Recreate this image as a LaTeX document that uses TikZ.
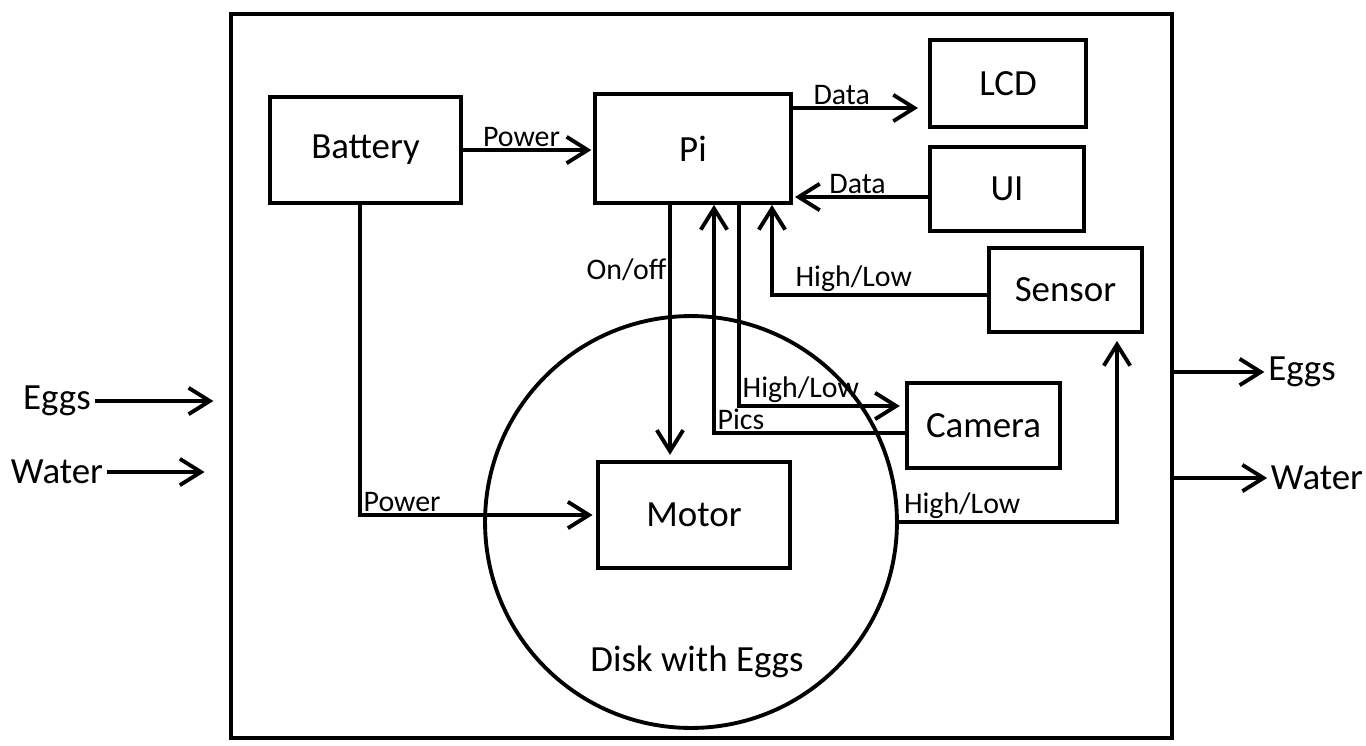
\documentclass[tikz,border=0pt]{standalone}
\usepackage{fontspec}
\setmainfont{Carlito}
\usetikzlibrary{arrows.meta}
\tikzset{
  box/.style  = {draw, rectangle, line width=2.2pt, font=\fontsize{21}{25}\selectfont},
  big/.style  = {font=\fontsize{21}{25}\selectfont, inner sep=2pt},
  tag/.style  = {font=\fontsize{17}{20}\selectfont, inner sep=1pt},
  flow/.style = {draw, line width=2.2pt, -{Straight Barb[length=12pt,width=15pt]}}
}

\begin{document}
\begin{tikzpicture}[x=0.02cm, y=-0.02cm]
  \useasboundingbox (0,0) rectangle (1366,745);
  % enclosure and disk
  \node[box, minimum width=18.82cm, minimum height=14.48cm] (frame) at (701.5,376) {};
  \node[circle, draw, line width=2.2pt, minimum size=8.24cm] (disk) at (691,522) {};
  \node[big] (disklabel) at (697,662) {Disk with Eggs};

  % blocks
  \node[box, minimum width=3.82cm, minimum height=2.12cm] (battery) at (365.5,150) {Battery};
  \node[box, minimum width=3.92cm, minimum height=2.18cm] (pi) at (693,148.5) {Pi};
  \node[box, minimum width=3.12cm, minimum height=1.74cm] (lcd) at (1008,83.5) {LCD};
  \node[box, minimum width=3.08cm, minimum height=1.68cm] (ui) at (1007,189) {UI};
  \node[box, minimum width=3.06cm, minimum height=1.68cm] (sensor) at (1065.5,290) {Sensor};
  \node[box, minimum width=3.06cm, minimum height=1.70cm] (camera) at (983.5,425.5) {Camera};
  \node[box, minimum width=3.84cm, minimum height=2.12cm] (motor) at (694,515) {Motor};

  % outside labels
  \node[big] (eggsin) at (57,401) {Eggs};
  \node[big] (waterin) at (57,472) {Water};
  \node[big] (eggsout) at (1302,372) {Eggs};
  \node[big] (waterout) at (1317,478) {Water};

  % bends
  \coordinate (lcdin) at (918,108);
  \coordinate (piin) at (795,197);
  \coordinate (onoff) at (670,203);
  \coordinate (picsbend) at (714,433);
  \coordinate (cambend) at (739,406);
  \coordinate (senbend) at (772,295);
  \coordinate (diskbend) at (1117,522);
  \coordinate (batbend) at (360,515);

  % connectors
  \draw[flow, shorten >=1pt] (battery.east) -- (battery.east -| pi.west)
    node[tag, above, pos=0.45] {Power};
  \draw[flow] (pi.east |- lcdin) -- (lcdin)
    node[tag, above, pos=0.39] {Data};
  \draw[flow] (ui.west |- piin) -- (piin)
    node[tag, above, pos=0.53] {Data};
  \draw[flow, shorten >=3pt] (onoff) -- (onoff |- motor.north)
    node[tag, left, pos=0.26] {On/off};
  \draw[flow] (camera.west |- picsbend) -- (picsbend)
    node[tag, anchor=south west, pos=1] {Pics} -- (picsbend |- pi.south);
  \draw[flow, shorten >=3pt] (pi.south -| cambend) -- (cambend)
    node[tag, anchor=south west] {High/Low} -- (cambend -| camera.west);
  \draw[flow] (sensor.west |- senbend) -- (senbend)
    node[tag, above, pos=0.62] {High/Low} -- (senbend |- pi.south);
  \draw[flow, shorten >=4pt] (disk.east) -- (diskbend)
    node[tag, above, pos=0.29] {High/Low} -- (diskbend |- sensor.south);
  \draw[flow, shorten >=2pt] (battery.south -| batbend) -- (batbend)
    node[tag, anchor=south west] {Power} -- (motor.west);
  \draw[flow, shorten >=9pt] (eggsin.east) -- (eggsin.east -| frame.west);
  \draw[flow, shorten >=14pt] (waterin.east) -- (waterin.east -| frame.west);
  \draw[flow] (frame.east |- eggsout) -- (eggsout.west);
  \draw[flow] (frame.east |- waterout) -- (waterout.west);
\end{tikzpicture}
\end{document}
